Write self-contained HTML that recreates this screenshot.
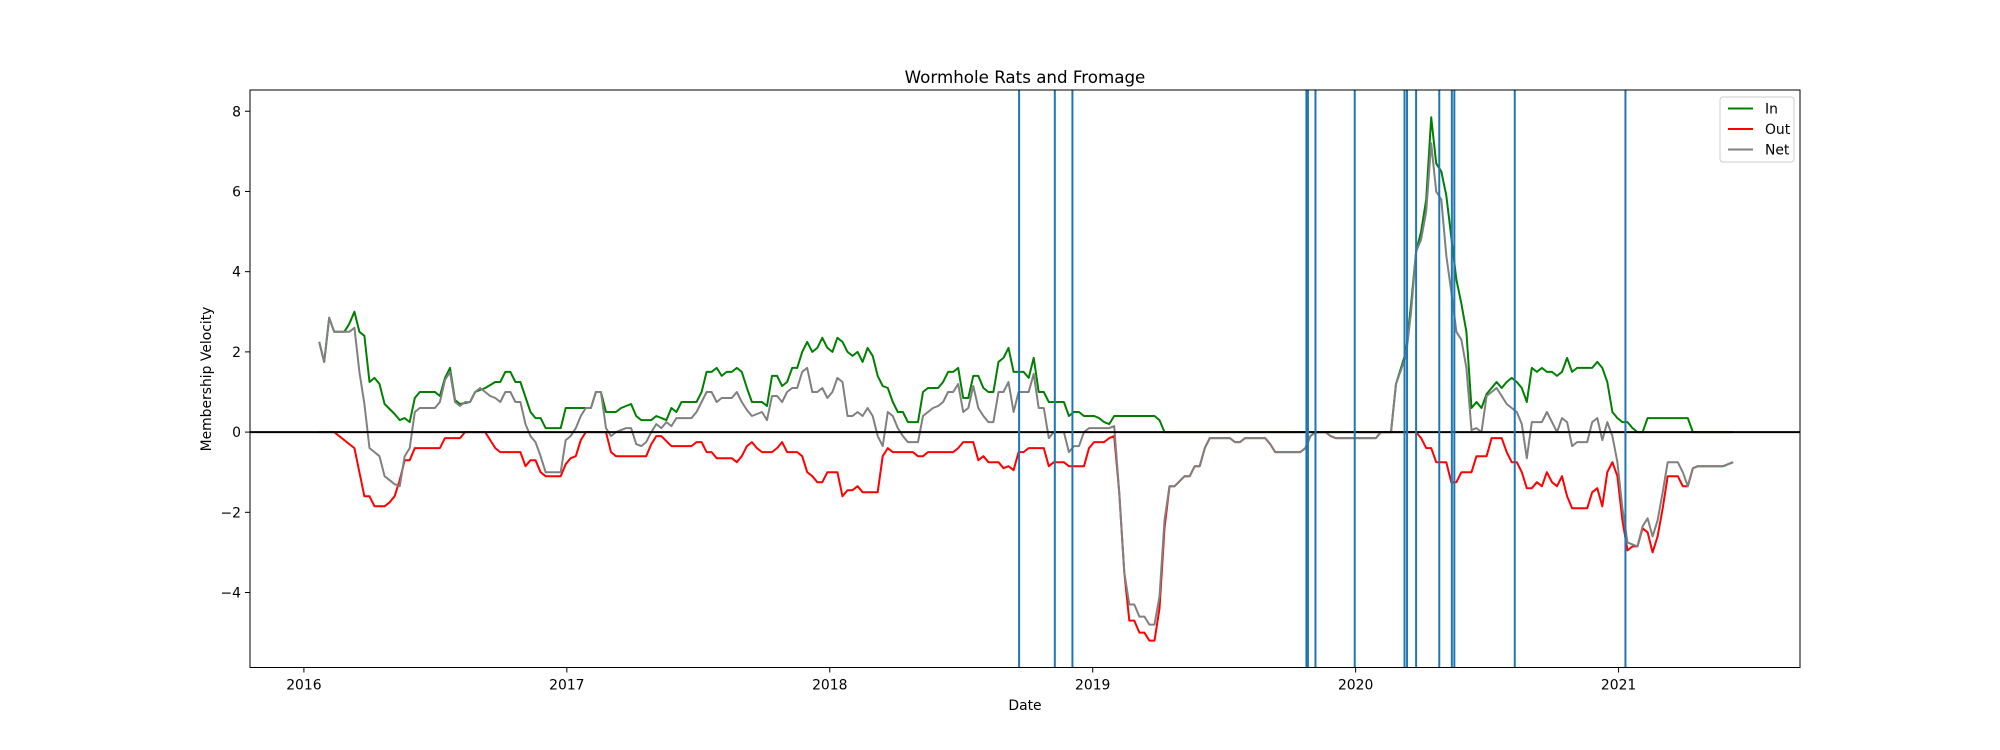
<!DOCTYPE html>
<html><head><meta charset="utf-8"><style>
html,body{margin:0;padding:0;background:#fff;}
svg{display:block;font-family:"DejaVu Sans","Liberation Sans",sans-serif;}
</style></head><body>
<svg id="chart" width="2000" height="750" viewBox="0 0 2000 750" xmlns="http://www.w3.org/2000/svg">
<rect x="0" y="0" width="2000" height="750" fill="#fff"/>
<text x="1025" y="83" font-size="16.7" text-anchor="middle">Wormhole Rats and Fromage</text>
<g id="plot"></g>
<text x="1025" y="710" font-size="13.9" text-anchor="middle">Date</text>
<text x="0" y="0" font-size="13.9" text-anchor="middle" transform="translate(211,379) rotate(-90)">Membership Velocity</text>
<g>
<rect x="1720" y="97" width="74" height="65" rx="3" fill="#fff" fill-opacity="0.8" stroke="#ccc" stroke-width="1"/>
<g><line x1="1728" y1="108.5" x2="1753" y2="108.5" stroke="#008000" stroke-width="2"/><text x="1765" y="113.5" font-size="13.9">In</text></g>
<g><line x1="1728" y1="129" x2="1753" y2="129" stroke="#ff0000" stroke-width="2"/><text x="1765" y="134" font-size="13.9">Out</text></g>
<g><line x1="1728" y1="149.5" x2="1753" y2="149.5" stroke="#808080" stroke-width="2"/><text x="1765" y="154.5" font-size="13.9">Net</text></g>
</g>
</svg>
<script>
// Weeks since first observation (2016-01-22) and values
const inWeeks=[0,1,2,3,5,6,7,8,9,10,11,12,13,15,16,17,18,19,20,23,24,25,26,27,28,30,31,33,35,36,37,38,39,40,42,43,44,45,48,49,54,55,56,57,59,60,62,63,64,66,67,69,70,71,72,75,76,77,78,79,80,81,82,83,84,85,86,88,89,90,91,92,93,94,95,96,97,98,99,100,101,102,103,104,105,106,107,108,109,110,111,112,113,114,115,116,117,119,120,121,123,124,125,126,127,128,129,130,131,132,133,134,135,136,137,138,140,141,142,143,144,145,148,149,150,151,152,154,155,156,157,158,159,166,167,168,213,214,216,217,218,219,220,221,222,223,224,226,227,228,229,230,231,232,233,234,235,236,237,238,239,240,241,242,243,244,245,246,247,248,249,250,253,254,255,256,257,258,259,260,261,262,263,264,272,273,281];
const inValues=[2.25,1.75,2.85,2.5,2.5,2.7,3.0,2.5,2.4,1.25,1.35,1.2,0.7,0.45,0.3,0.35,0.25,0.85,1.0,1.0,0.9,1.35,1.6,0.8,0.7,0.75,1.0,1.1,1.25,1.25,1.5,1.5,1.25,1.25,0.5,0.35,0.35,0.1,0.1,0.6,0.6,1.0,1.0,0.5,0.5,0.6,0.7,0.4,0.3,0.3,0.4,0.3,0.6,0.5,0.75,0.75,1.0,1.5,1.5,1.6,1.4,1.5,1.5,1.6,1.5,1.1,0.75,0.75,0.65,1.4,1.4,1.15,1.25,1.6,1.6,2.0,2.25,2.0,2.1,2.35,2.1,2.0,2.35,2.25,2.0,1.9,2.0,1.75,2.1,1.9,1.4,1.15,1.1,0.75,0.5,0.5,0.25,0.25,1.0,1.1,1.1,1.25,1.5,1.5,1.6,0.85,0.85,1.4,1.4,1.1,1.0,1.0,1.75,1.85,2.1,1.5,1.5,1.35,1.85,1.0,1.0,0.75,0.75,0.4,0.5,0.5,0.4,0.4,0.35,0.25,0.2,0.4,0.4,0.4,0.3,0.0,0.0,1.2,2.0,3.2,4.5,5.0,5.8,7.85,6.7,6.5,5.9,3.8,3.2,2.5,0.6,0.75,0.6,0.95,1.1,1.25,1.1,1.25,1.35,1.25,1.1,0.75,1.6,1.5,1.6,1.5,1.5,1.4,1.5,1.85,1.5,1.6,1.6,1.75,1.6,1.25,0.5,0.35,0.25,0.25,0.1,0.0,0.0,0.35,0.35,0.0,0.0];
const outWeeks=[0,3,7,8,9,10,11,12,13,14,15,16,17,18,19,24,25,28,29,33,34,35,36,40,41,42,43,44,45,48,49,50,51,52,53,57,58,59,65,66,67,68,70,74,75,76,77,78,79,82,83,84,85,86,87,88,90,91,92,93,95,96,97,98,99,100,101,103,104,105,106,107,108,111,112,113,114,118,119,120,121,126,127,128,130,131,132,133,135,136,137,138,139,140,141,144,145,146,148,149,152,153,154,156,157,158,159,160,161,162,163,164,165,166,167,168,169,170,172,173,174,175,176,177,181,182,183,184,188,189,190,195,196,197,198,200,201,202,210,211,218,219,220,221,222,224,225,226,227,229,230,232,233,235,236,237,238,239,240,241,242,243,244,245,246,247,248,249,252,253,254,255,256,257,258,259,260,261,262,263,264,265,266,267,268,270,271,272,273,274,279,281];
const outValues=[0,0,-0.4,-1.0,-1.6,-1.6,-1.85,-1.85,-1.85,-1.75,-1.6,-1.2,-0.7,-0.7,-0.4,-0.4,-0.15,-0.15,0,0,-0.2,-0.4,-0.5,-0.5,-0.85,-0.7,-0.7,-1.0,-1.1,-1.1,-0.8,-0.65,-0.6,-0.2,0,0,-0.5,-0.6,-0.6,-0.3,-0.1,-0.1,-0.35,-0.35,-0.25,-0.25,-0.5,-0.5,-0.65,-0.65,-0.75,-0.6,-0.35,-0.25,-0.4,-0.5,-0.5,-0.4,-0.25,-0.5,-0.5,-0.6,-1.0,-1.1,-1.25,-1.25,-1.0,-1.0,-1.6,-1.45,-1.45,-1.35,-1.5,-1.5,-0.6,-0.4,-0.5,-0.5,-0.6,-0.6,-0.5,-0.5,-0.4,-0.25,-0.25,-0.7,-0.6,-0.75,-0.75,-0.9,-0.85,-0.95,-0.5,-0.5,-0.4,-0.4,-0.85,-0.75,-0.75,-0.85,-0.85,-0.4,-0.25,-0.25,-0.15,-0.1,-1.5,-3.5,-4.7,-4.7,-5.0,-5.0,-5.2,-5.2,-4.4,-2.4,-1.35,-1.35,-1.1,-1.1,-0.85,-0.85,-0.4,-0.15,-0.15,-0.25,-0.25,-0.15,-0.15,-0.3,-0.5,-0.5,-0.4,-0.1,0,0,-0.1,-0.15,-0.15,0,0,-0.15,-0.4,-0.4,-0.75,-0.75,-1.25,-1.25,-1.0,-1.0,-0.6,-0.6,-0.15,-0.15,-0.5,-0.75,-0.75,-1.0,-1.4,-1.4,-1.25,-1.35,-1.0,-1.25,-1.35,-1.1,-1.6,-1.9,-1.9,-1.5,-1.4,-1.85,-1.0,-0.75,-1.1,-2.2,-2.95,-2.85,-2.85,-2.4,-2.5,-3.0,-2.6,-1.9,-1.1,-1.1,-1.35,-1.35,-0.9,-0.85,-0.85,-0.75];
const netWeeks=[0,1,2,3,6,7,8,9,10,11,12,13,15,16,17,18,19,20,23,24,25,26,27,28,29,30,31,32,33,34,35,36,37,38,39,40,41,42,43,44,45,48,49,50,51,52,53,54,55,56,57,58,59,61,62,63,64,65,66,67,68,69,70,71,74,75,76,77,78,79,80,82,83,84,85,86,87,88,89,90,91,92,93,94,95,96,97,98,99,100,101,102,103,104,105,106,107,108,109,110,111,112,113,114,115,116,117,119,120,121,122,123,124,125,126,127,128,129,130,131,132,133,134,135,136,137,138,139,141,142,143,144,145,146,148,149,150,151,152,153,157,158,159,160,161,162,163,164,165,166,167,168,169,170,172,173,174,175,176,177,181,182,183,184,188,189,190,195,196,197,198,200,201,202,210,211,213,214,216,217,218,219,220,221,222,223,224,225,226,227,228,229,230,231,232,233,234,235,236,237,238,239,240,241,243,244,245,246,247,248,249,250,252,253,254,255,256,257,258,259,260,262,263,264,265,266,267,268,270,271,272,273,274,279,281];
const netValues=[2.25,1.75,2.85,2.5,2.5,2.6,1.5,0.7,-0.4,-0.5,-0.6,-1.1,-1.3,-1.35,-0.6,-0.4,0.5,0.6,0.6,0.75,1.3,1.5,0.75,0.65,0.75,0.75,1.0,1.1,1.0,0.9,0.85,0.75,1.0,1.0,0.75,0.75,0.2,-0.1,-0.25,-0.6,-1.0,-1.0,-0.2,-0.1,0.1,0.4,0.6,0.6,1.0,1.0,0.1,-0.1,0.0,0.1,0.1,-0.3,-0.35,-0.25,0.0,0.2,0.1,0.25,0.15,0.35,0.35,0.5,0.75,1.0,1.0,0.75,0.85,0.85,1.0,0.75,0.55,0.4,0.45,0.5,0.3,0.9,0.9,0.75,1.0,1.1,1.1,1.5,1.6,1.0,1.0,1.1,0.85,1.0,1.35,1.25,0.4,0.4,0.5,0.4,0.6,0.4,-0.1,-0.35,0.5,0.4,0.1,-0.1,-0.25,-0.25,0.4,0.5,0.6,0.65,0.75,1.0,1.0,1.2,0.5,0.6,1.15,0.6,0.4,0.25,0.25,1.0,1.0,1.25,0.5,1.0,1.0,1.45,0.6,0.6,-0.15,0.0,0.0,-0.5,-0.35,-0.35,0.0,0.1,0.1,0.15,-1.5,-3.5,-4.3,-4.3,-4.6,-4.6,-4.8,-4.8,-4.1,-2.2,-1.35,-1.35,-1.1,-1.1,-0.85,-0.85,-0.4,-0.15,-0.15,-0.25,-0.25,-0.15,-0.15,-0.3,-0.5,-0.5,-0.4,-0.1,0,0,-0.1,-0.15,-0.15,0,0,1.2,1.9,3.0,4.5,4.8,5.5,7.2,6.0,5.8,4.4,3.5,2.5,2.3,1.6,0.05,0.1,0.0,0.9,1.0,1.1,0.9,0.7,0.6,0.5,0.2,-0.65,0.25,0.25,0.5,0.25,0.0,0.35,0.25,-0.35,-0.25,-0.25,0.25,0.35,-0.2,0.25,-0.1,-0.75,-1.9,-2.75,-2.85,-2.35,-2.15,-2.6,-2.2,-1.5,-0.75,-0.75,-1.0,-1.35,-0.9,-0.85,-0.85,-0.75];
const eventWeeks=[139.1,146.2,149.7,196.2,196.5,198.0,205.8,215.7,216.2,218.0,222.6,225.1,225.6,237.6,259.6];
const xTickLabels=["2016","2017","2018","2019","2020","2021"];
const yTickValues=[-4,-2,0,2,4,6,8];

const START=2016.058, X0=2015.795, X1=2021.69, Y0=-5.87, Y1=8.53;
const L=250,R=1800,T=90,B=667.5;
const wk2yr=w=>START+w*6.99/365.25;
const xs=yr=>L+(yr-X0)/(X1-X0)*(R-L);
const ys=v=>T+(Y1-v)/(Y1-Y0)*(B-T);
const NS="http://www.w3.org/2000/svg";
const plot=document.getElementById('plot');
function mk(tag,attrs,parent){const e=document.createElementNS(NS,tag);for(const k in attrs)e.setAttribute(k,attrs[k]);(parent||plot).appendChild(e);return e;}

function series(weeks,vals,color,name){
  const d=weeks.map((w,i)=>(i?'L':'M')+xs(wk2yr(w)).toFixed(1)+','+ys(vals[i]).toFixed(1)).join(' ');
  const p=mk('path',{d:d,fill:'none',stroke:color,'stroke-width':2,'stroke-linejoin':'round'});
  
  
}
series(inWeeks,inValues,'#008000','in-line');
series(outWeeks,outValues,'#ff0000','out-line');
series(netWeeks,netValues,'#808080','net-line');
const z=mk('line',{x1:L,x2:R,y1:ys(0),y2:ys(0),stroke:'#000','stroke-width':2});


eventWeeks.forEach(w=>{
  const x=xs(wk2yr(w));
  const e=mk('line',{x1:x,x2:x,y1:T,y2:B,stroke:'#1f77b4','stroke-width':2});
  
  
});
const f=mk('rect',{x:L,y:T,width:R-L,height:B-T,fill:'none',stroke:'#000','stroke-width':1});


xTickLabels.forEach(s=>{
  const x=xs(+s);
  const t=mk('line',{x1:x,x2:x,y1:B,y2:B+5,stroke:'#000','stroke-width':1});
  
  
  const tx=mk('text',{x:x,y:B+22,'font-size':13.9,'text-anchor':'middle'});
  tx.textContent=s;
  
  
});
yTickValues.forEach(v=>{
  const y=ys(v);
  const t=mk('line',{x1:L-5,x2:L,y1:y,y2:y,stroke:'#000','stroke-width':1});
  
  
  const tx=mk('text',{x:L-9,y:y+5,'font-size':13.9,'text-anchor':'end'});
  tx.textContent=(v<0?'\u2212':'')+Math.abs(v);
  
  
});
</script>
</body></html>
